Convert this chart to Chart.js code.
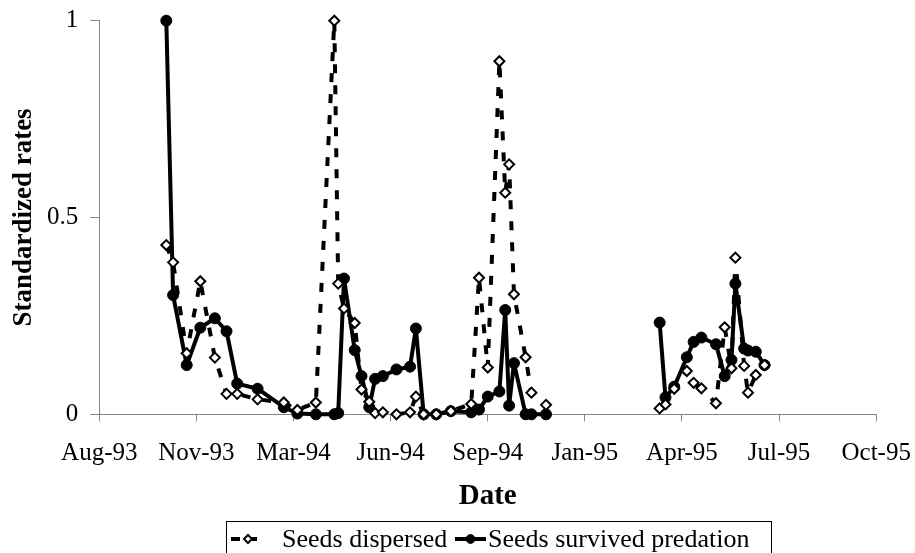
<!DOCTYPE html>
<html>
<head>
<meta charset="utf-8">
<script src="https://cdn.jsdelivr.net/npm/chart.js@4/dist/chart.umd.min.js"></script>
<style>
  html, body { margin: 0; padding: 0; background: #fff; }
  canvas { display: block; }
</style>
</head>
<body>
<canvas id="chart" width="915" height="553"></canvas>
<script>
// sampling dates (both series share them)
const sampleDates = [
  '1993-10-29','1993-11-05','1993-11-19','1993-12-03','1993-12-18','1993-12-30',
  '1994-01-10','1994-01-31','1994-02-27','1994-03-13','1994-04-01','1994-04-20',
  '1994-04-24','1994-04-30','1994-05-11','1994-05-18','1994-05-26','1994-06-01',
  '1994-06-09','1994-06-23','1994-07-07','1994-07-13','1994-07-21','1994-08-03',
  '1994-08-18','1994-09-08','1994-09-16','1994-09-25','1994-10-07','1994-10-13',
  '1994-10-17','1994-10-22','1994-11-03','1994-11-09','1994-11-24',
  '1995-03-21','1995-03-27','1995-04-05','1995-04-18','1995-04-25','1995-05-03',
  '1995-05-18','1995-05-27','1995-06-03','1995-06-07','1995-06-16','1995-06-20',
  '1995-06-28','1995-07-07'
];
const seedsDispersed = [
  0.43, 0.386, 0.155, 0.338, 0.144, 0.052,
  0.052, 0.038, 0.03, 0.011, 0.03, 1.0,
  0.332, 0.269, 0.232, 0.063, 0.032, 0.003,
  0.005, 0.0, 0.005, 0.045, 0.0, 0.0,
  0.008, 0.026, 0.347, 0.119, 0.897, 0.563,
  0.635, 0.305, 0.145, 0.055, 0.024,
  0.015, 0.025, 0.065, 0.11, 0.08, 0.066,
  0.028, 0.221, 0.117, 0.398, 0.123, 0.055,
  0.1, 0.125
];
const seedsSurvived = [
  1.0, 0.303, 0.125, 0.22, 0.244, 0.211,
  0.078, 0.065, 0.018, 0.002, 0.0, 0.0,
  0.003, 0.345, 0.163, 0.097, 0.018, 0.09,
  0.097, 0.114, 0.121, 0.218, 0.0, 0.0,
  0.008, 0.005, 0.012, 0.045, 0.058, 0.265,
  0.022, 0.13, 0.0, 0.0, 0.0,
  0.233, 0.043, 0.07, 0.145, 0.184, 0.195,
  0.178, 0.097, 0.138, 0.332, 0.167, 0.162,
  0.159, 0.125
];
const seriesNames = ['Seeds dispersed', 'Seeds survived predation'];
const yTicks = [0, 0.5, 1];

// date axis: starts 21 Aug 1993, a major tick every 100 days
const axisStart = Date.UTC(1993, 7, 21);
const DAY = 86400000;
const axisStep = 100;
const axisEnd = 800;
const months = ['Jan','Feb','Mar','Apr','May','Jun','Jul','Aug','Sep','Oct','Nov','Dec'];

function dayNum(s) {
  const p = s.split('-');
  return (Date.UTC(+p[0], +p[1] - 1, +p[2]) - axisStart) / DAY;
}
function dateLabel(v) {
  const d = new Date(axisStart + v * DAY);
  return months[d.getUTCMonth()] + '-' + String(d.getUTCFullYear()).slice(2);
}
function points(vals) {
  return sampleDates.map((s, i) => ({x: dayNum(s), y: vals[i]}));
}
// no line across the long break in sampling (Dec 94 - Mar 95)
const gapColor = ctx => (ctx.p1.parsed.x - ctx.p0.parsed.x > 60 ? 'rgba(0,0,0,0)' : undefined);
// keep the plot area where the layout padding puts it
function noLabelPadding(s) {
  s.paddingLeft = 0; s.paddingRight = 0; s.paddingTop = 0; s.paddingBottom = 0;
}

const serif = '"Liberation Serif", "Times New Roman", Times, serif';
const axisGray = '#868686';

const legendBox = {
  id: 'legendBox',
  afterDraw(chart) {
    const ctx = chart.ctx;
    const sets = chart.data.datasets;
    const items = [{x: 231, w: 26, tx: 282}, {x: 455, w: 31, tx: 488}];
    const y = 539;
    ctx.save();
    ctx.strokeStyle = '#000';
    ctx.lineWidth = 1;
    ctx.strokeRect(226.5, 521.5, 545, 40);
    ctx.font = '26px ' + serif;
    ctx.textBaseline = 'alphabetic';
    sets.forEach((ds, i) => {
      const it = items[i];
      ctx.beginPath();
      ctx.setLineDash(ds.borderDash || []);
      ctx.lineWidth = ds.borderWidth;
      ctx.strokeStyle = ds.borderColor;
      ctx.moveTo(it.x, y);
      ctx.lineTo(it.x + it.w, y);
      ctx.stroke();
      ctx.setLineDash([]);
      ctx.fillStyle = ds.pointBackgroundColor;
      ctx.strokeStyle = ds.pointBorderColor;
      ctx.lineWidth = ds.pointBorderWidth;
      Chart.helpers.drawPoint(ctx, {pointStyle: ds.pointStyle, radius: ds.pointRadius * 0.8, borderWidth: ds.pointBorderWidth}, it.x + it.w / 2 + (i ? 0 : 4), y);
      ctx.fillStyle = '#000';
      ctx.fillText(ds.label, it.tx, 547);
    });
    ctx.restore();
  }
};

new Chart(document.getElementById('chart'), {
  type: 'line',
  data: {
    datasets: [
      {
        label: seriesNames[0],
        data: points(seedsDispersed),
        borderColor: '#000',
        borderWidth: 4,
        borderDash: [9, 12],
        borderJoinStyle: 'round',
        pointStyle: 'rectRot',
        pointRadius: 5,
        pointBorderWidth: 2,
        pointBackgroundColor: '#fff',
        pointBorderColor: '#000',
        tension: 0,
        clip: false,
        segment: {borderColor: gapColor}
      },
      {
        label: seriesNames[1],
        data: points(seedsSurvived),
        borderColor: '#000',
        borderWidth: 4,
        borderJoinStyle: 'round',
        pointStyle: 'circle',
        pointRadius: 5.5,
        pointBorderWidth: 1,
        pointBackgroundColor: '#000',
        pointBorderColor: '#000',
        tension: 0,
        clip: false,
        segment: {borderColor: gapColor}
      }
    ]
  },
  options: {
    responsive: false,
    animation: false,
    devicePixelRatio: 1,
    layout: {padding: {left: 0, right: 38.8, top: 20.7, bottom: 38.7}},
    plugins: {
      legend: {display: false},
      tooltip: {enabled: false}
    },
    scales: {
      x: {
        type: 'linear',
        min: 0,
        max: axisEnd,
        afterFit: s => { s.height = 100; noLabelPadding(s); },
        afterBuildTicks: s => { s.ticks = []; for (let v = 0; v <= axisEnd; v += axisStep) s.ticks.push({value: v}); },
        ticks: {
          callback: v => dateLabel(v),
          color: '#000',
          font: {family: serif, size: 25},
          padding: 17,
          maxRotation: 0,
          autoSkip: false
        },
        grid: {drawOnChartArea: false, tickLength: 7, tickColor: axisGray},
        border: {color: axisGray, width: 1},
        title: {display: true, text: 'Date', color: '#000', font: {family: serif, size: 29, weight: 'bold'}, padding: 0}
      },
      y: {
        min: 0,
        max: 1,
        afterFit: s => { s.width = 99.3; noLabelPadding(s); },
        afterBuildTicks: s => { s.ticks = yTicks.map(v => ({value: v})); },
        ticks: {
          callback: v => String(v),
          color: '#000',
          font: {family: serif, size: 25},
          padding: 12
        },
        grid: {drawOnChartArea: false, tickLength: 9, tickColor: axisGray},
        border: {color: axisGray, width: 1},
        title: {display: true, text: 'Standardized rates', color: '#000', font: {family: serif, size: 27, weight: 'bold'}, padding: {top: 8, bottom: 0}}
      }
    }
  },
  plugins: [legendBox]
});
</script>
</body>
</html>
